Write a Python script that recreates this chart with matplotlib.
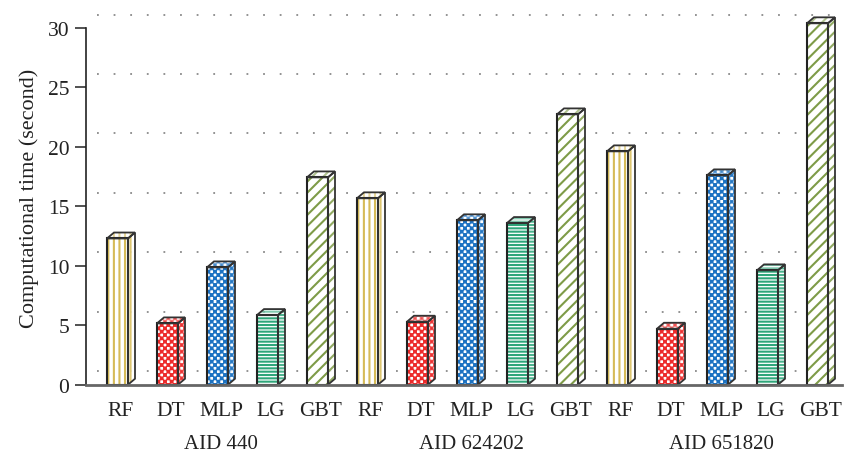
import numpy as np
import matplotlib
matplotlib.use("Agg")
import matplotlib.pyplot as plt
import matplotlib.hatch as mhatch
from matplotlib.path import Path
from matplotlib.patches import Polygon

# ---------------- data ----------------
groups = ["AID 440", "AID 624202", "AID 651820"]
models = ["RF", "DT", "MLP", "LG", "GBT"]
aid440 = [12.3, 5.16, 9.87, 5.86, 17.44]
aid624202 = [15.68, 5.30, 13.83, 13.60, 22.74]
aid651820 = [19.63, 4.71, 17.61, 9.62, 30.4]
yticks = [0, 5, 10, 15, 20, 25, 30]

# ---------------- custom checkerboard hatch (replaces 'O') ----------------
HATCH_LW = 1.5

class CheckerHatch(mhatch.HatchPatternBase):
    filled = True

    def __init__(self, hatch, density):
        self.n = int(hatch.count('O') * density)
        if self.n % 2:
            self.n += 1
        self.num_vertices = (self.n * self.n // 2) * 5 if self.n else 0

    def set_vertices_and_codes(self, vertices, codes):
        n = self.n
        s = 1.0 / n
        ins = HATCH_LW / 200.0
        k = 0
        for i in range(n):
            for j in range(n):
                if (i + j) % 2 == 0:
                    x0, y0 = i * s + ins, j * s + ins
                    x1, y1 = (i + 1) * s - ins, (j + 1) * s - ins
                    vertices[k:k + 5] = [(x0, y0), (x1, y0), (x1, y1), (x0, y1), (x0, y0)]
                    codes[k:k + 5] = [Path.MOVETO, Path.LINETO, Path.LINETO, Path.LINETO, Path.CLOSEPOLY]
                    k += 5

mhatch._hatch_types[:] = [CheckerHatch if t is mhatch.LargeCircles else t
                          for t in mhatch._hatch_types]

plt.rcParams['font.family'] = ['Liberation Serif', 'DejaVu Serif']
plt.rcParams['hatch.linewidth'] = HATCH_LW

styles = {
    "RF": ("#D6BB58", "|||"),
    "DT": ("#EC2A2A", "OOOOO"),
    "MLP": ("#1C72C2", "OOOOO"),
    "LG": ("#2EA67A", "-----"),
    "GBT": ("#7E9B48", "///"),
}

fig = plt.figure(figsize=(8.5, 4.56), dpi=100)
ax = fig.add_axes([86 / 850, 70.3 / 456, 756 / 850, 374.5 / 456])

values = aid440 + aid624202 + aid651820
labels = models * 3
x = np.arange(len(values))
w = 0.42
dx = 0.14
dy = 0.5

ax.set_xlim(-0.63, 14.49)
ax.set_ylim(0, 31.5)

# grid on back wall
for t in yticks:
    ax.plot([-0.41, 14.45], [t + 1.13, t + 1.13], color="#8a8a8a", lw=1.3,
            linestyle=(0, (1, 8.2)), zorder=0.5)

for xi, v, lab in zip(x, values, labels):
    col, hat = styles[lab]
    # front face
    ax.bar(xi, v, w, color="white", edgecolor=col, hatch=hat, lw=0, zorder=2)
    ax.bar(xi, v, w, fill=False, edgecolor="#222222", lw=1.5, zorder=3)
    # side and top faces
    side = [(xi + w / 2, 0), (xi + w / 2 + dx, dy), (xi + w / 2 + dx, v + dy), (xi + w / 2, v)]
    top = [(xi - w / 2, v), (xi - w / 2 + dx, v + dy), (xi + w / 2 + dx, v + dy), (xi + w / 2, v)]
    ax.add_patch(Polygon(side, closed=True, facecolor="white", edgecolor=col,
                         hatch=hat, lw=0, zorder=2, alpha=0.85))
    ax.add_patch(Polygon(top, closed=True, facecolor="white", edgecolor=col,
                         hatch=hat, lw=0, zorder=2, alpha=0.6))
    ax.add_patch(Polygon(side, closed=True, fill=False, edgecolor="#333333",
                         lw=1.3, zorder=3, joinstyle="miter"))
    ax.add_patch(Polygon(top, closed=True, fill=False, edgecolor="#333333",
                         lw=1.3, zorder=3, joinstyle="miter"))

# axes styling
for s in ["top", "right"]:
    ax.spines[s].set_visible(False)
ax.spines["left"].set_bounds(0, 30)
ax.spines["left"].set_linewidth(1.2)
ax.spines["left"].set_color("#222222")
ax.spines["bottom"].set_color("#666666")
ax.spines["bottom"].set_linewidth(2.0)
ax.spines["bottom"].set_zorder(4)

ax.set_yticks(yticks)
ax.set_yticklabels([str(t) for t in yticks])
ax.tick_params(axis="y", direction="out", length=8, width=1.1, color="#222222",
               labelsize=15.5, pad=4, labelcolor="#222222")
ax.set_xticks(x + dx / 2)
ax.set_xticklabels(labels)
ax.tick_params(axis="x", length=0, labelsize=15.5, pad=12, labelcolor="#222222")
ax.set_ylabel("Computational time (second)", fontsize=16, color="#222222", labelpad=6)

for gi, g in enumerate(groups):
    cx = x[gi * 5: gi * 5 + 5].mean() + dx / 2
    ax.text(cx, -0.158, g, transform=ax.get_xaxis_transform(), ha="center",
            va="center", fontsize=15, color="#222222")

fig.savefig("out.png", dpi=100)
